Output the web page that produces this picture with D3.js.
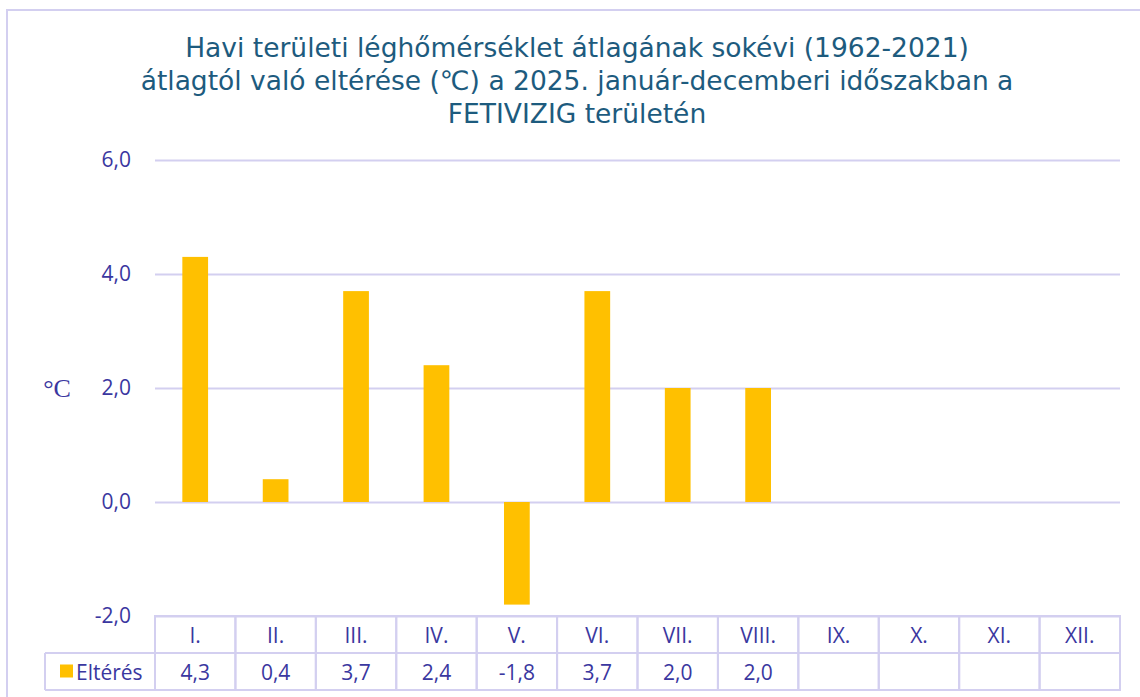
<!DOCTYPE html>
<html>
<head>
<meta charset="utf-8">
<script src="https://cdn.jsdelivr.net/npm/d3@7"></script>
<style>
  body { margin: 0; background: #fff; }
  svg { display: block; }
</style>
</head>
<body>
<div id="chart"></div>
<script>
// data
var months = ["I.", "II.", "III.", "IV.", "V.", "VI.", "VII.", "VIII.", "IX.", "X.", "XI.", "XII."];
var values = [4.3, 0.4, 3.7, 2.4, -1.8, 3.7, 2.0, 2.0, null, null, null, null];
var yTicks = [-2, 0, 2, 4, 6];
var seriesName = "Eltérés";
var titleLines = [
  "Havi területi léghőmérséklet átlagának sokévi (1962-2021)",
  "átlagtól való eltérése (℃) a 2025. január-decemberi időszakban a",
  "FETIVIZIG területén"
];

var W = 1140, H = 697;
var margin = {top: 160, right: 20, bottom: 81, left: 155},
    width = W - margin.left - margin.right,
    height = 456;

var gridCol = "#d3cff0",
    txtCol = "#3a37a0",
    barCol = "#ffc000";

var fmt = function(d) { return d3.format(".1f")(d).replace(".", ",").replace("\u2212", "-"); };

var svg = d3.select("#chart").append("svg")
    .attr("width", W)
    .attr("height", H);

// outer frame
svg.append("rect")
    .attr("x", 7).attr("y", 10)
    .attr("width", W + 20).attr("height", H + 20)
    .attr("fill", "none")
    .attr("stroke", gridCol)
    .attr("stroke-width", 2);

// title
svg.append("g").selectAll("text")
    .data(titleLines)
    .join("text")
    .attr("x", 577)
    .attr("y", function(d, i) { return 57 + i * 33; })
    .attr("text-anchor", "middle")
    .style("font-family", "'DejaVu Sans', sans-serif")
    .style("font-size", "26.5px")
    .style("fill", "#1d5b7e")
    .text(function(d) { return d; });

var g = svg.append("g")
    .attr("transform", "translate(" + margin.left + "," + margin.top + ")");

var x = d3.scaleBand().domain(months).range([0, width]).paddingInner(0.68).paddingOuter(0.34);
var xCell = d3.scaleBand().domain(months).range([0, width]);
var y = d3.scaleLinear().domain([-2, 6]).range([height, 0]);

// gridlines + labels via axis
var yAxis = g.append("g")
    .call(d3.axisLeft(y).tickValues(yTicks).tickSize(-width).tickFormat(fmt));
yAxis.select(".domain").remove();
yAxis.selectAll("line").attr("stroke", gridCol).attr("stroke-width", 2);
yAxis.selectAll("text")
    .attr("x", -24)
    .style("font-family", "'Open Sans', sans-serif")
    .style("font-size", "21px")
    .style("fill", txtCol);

// unit label
svg.append("text")
    .attr("x", 57).attr("y", margin.top + y(2) + 9)
    .attr("text-anchor", "middle")
    .style("font-family", "'Liberation Serif', serif")
    .style("font-size", "26px")
    .style("fill", txtCol)
    .text("°C");

// bars
g.append("g").selectAll("rect")
    .data(months.map(function(m, i) { return {m: m, v: values[i]}; }).filter(function(d) { return d.v != null; }))
    .join("rect")
    .attr("x", function(d) { return x(d.m); })
    .attr("width", x.bandwidth())
    .attr("y", function(d) { return y(Math.max(0, d.v)); })
    .attr("height", function(d) { return Math.abs(y(d.v) - y(0)); })
    .attr("fill", barCol);

// data table
var rowH = 37;
var tbl = g.append("g").attr("transform", "translate(0," + height + ")");
var legendX = 45 - margin.left;

tbl.append("g").selectAll("rect")
    .data(months)
    .join("rect")
    .attr("x", function(d) { return xCell(d); })
    .attr("y", 0)
    .attr("width", xCell.bandwidth())
    .attr("height", rowH * 2)
    .attr("fill", "none")
    .attr("stroke", gridCol)
    .attr("stroke-width", 2);

[rowH, rowH * 2].forEach(function(yy) {
  tbl.append("line")
      .attr("x1", legendX).attr("x2", width)
      .attr("y1", yy).attr("y2", yy)
      .attr("stroke", gridCol).attr("stroke-width", 2);
});
tbl.append("line")
    .attr("x1", legendX).attr("x2", legendX)
    .attr("y1", rowH).attr("y2", rowH * 2)
    .attr("stroke", gridCol).attr("stroke-width", 2);

var cellFont = function(sel) {
  sel.attr("text-anchor", "middle")
    .style("font-family", "'Open Sans', sans-serif")
    .style("font-size", "21px")
    .style("fill", txtCol);
};

tbl.append("g").selectAll("text")
    .data(months)
    .join("text")
    .attr("x", function(d) { return xCell(d) + xCell.bandwidth() / 2; })
    .attr("y", rowH / 2 + 8)
    .call(cellFont)
    .text(function(d) { return d; });

tbl.append("g").selectAll("text")
    .data(months.map(function(m, i) { return {m: m, v: values[i]}; }))
    .join("text")
    .attr("x", function(d) { return xCell(d.m) + xCell.bandwidth() / 2; })
    .attr("y", rowH * 1.5 + 8)
    .call(cellFont)
    .text(function(d) { return d.v == null ? "" : fmt(d.v); });

// legend key
tbl.append("rect")
    .attr("x", legendX + 15).attr("y", rowH * 1.5 - 7)
    .attr("width", 13).attr("height", 13)
    .attr("fill", barCol);
tbl.append("text")
    .attr("x", legendX + 31).attr("y", rowH * 1.5 + 8)
    .style("font-family", "'Open Sans', sans-serif")
    .style("font-size", "21px")
    .style("fill", txtCol)
    .text(seriesName);
</script>
</body>
</html>
